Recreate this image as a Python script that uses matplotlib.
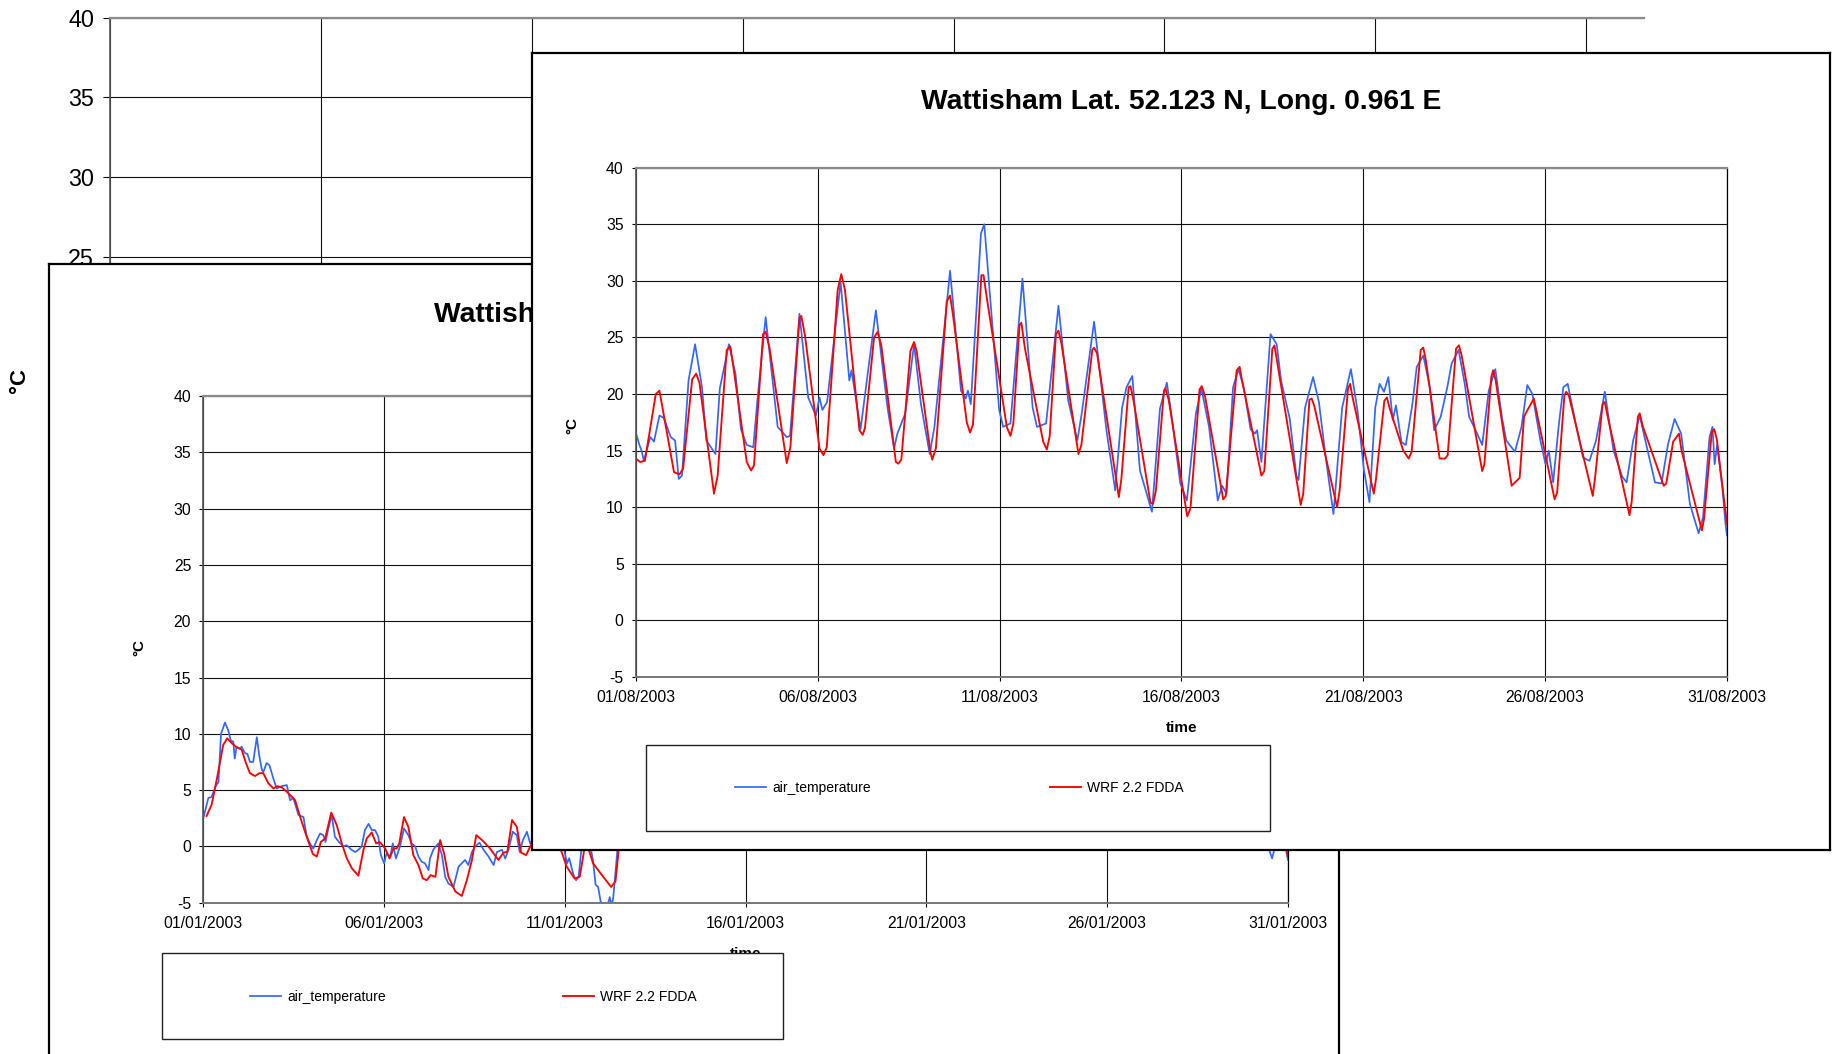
import matplotlib
matplotlib.use("Agg")
import matplotlib.pyplot as plt
import numpy as np
from matplotlib.patches import Rectangle
from matplotlib.legend import Legend

plt.rcParams['font.family'] = ['Liberation Sans', 'DejaVu Sans']
plt.rcParams['axes.unicode_minus'] = False

W, H = 1833, 1054
nan = float('nan')

# ---------------- data ----------------
title = "Wattisham Lat. 52.123 N, Long. 0.961 E"
series_names = ["air_temperature", "WRF 2.2 FDDA"]
y_ticks = [-5, 0, 5, 10, 15, 20, 25, 30, 35, 40]
x_tick_days = [0, 5, 10, 15, 20, 25, 30]
aug_labels = ["01/08/2003", "06/08/2003", "11/08/2003", "16/08/2003",
              "21/08/2003", "26/08/2003", "31/08/2003"]
jan_labels = ["01/01/2003", "06/01/2003", "11/01/2003", "16/01/2003",
              "21/01/2003", "26/01/2003", "31/01/2003"]

# August 2003 (days after 01/08/2003 00:00)
aug_wrf_day = [0.00, 0.12, 0.25, 0.55, 0.65, 0.75, 1.05, 1.20, 1.30, 1.55, 1.66, 1.75,
               2.15, 2.25, 2.50, 2.60, 2.70, 3.05, 3.17, 3.25, 3.50, 3.57, 3.68, 4.15,
               4.25, 4.50, 4.55, 4.65, 5.05, 5.16, 5.25, 5.55, 5.65, 5.75, 6.15, 6.24,
               6.30, 6.55, 6.65, 6.75, 7.15, 7.22, 7.30, 7.55, 7.65, 7.72, 8.10, 8.15,
               8.25, 8.55, 8.64, 8.72, 9.10, 9.19, 9.27, 9.50, 9.56, 9.65, 10.20, 10.30,
               10.38, 10.55, 10.60, 10.70, 11.20, 11.30, 11.38, 11.55, 11.62, 11.70, 12.17, 12.25,
               12.55, 12.60, 12.68, 13.28, 13.35, 13.55, 13.60, 13.68, 14.15, 14.22, 14.30, 14.52,
               14.56, 14.65, 15.16, 15.25, 15.50, 15.56, 15.65, 16.15, 16.22, 16.52, 16.60, 16.68,
               17.20, 17.28, 17.50, 17.56, 17.65, 18.28, 18.35, 18.52, 18.58, 18.65, 19.28, 19.35,
               19.58, 19.64, 19.70, 20.29, 20.35, 20.58, 20.65, 20.72, 21.10, 21.25, 21.33, 21.58,
               21.65, 21.72, 22.10, 22.25, 22.32, 22.55, 22.63, 22.70, 23.27, 23.33, 23.52, 23.57,
               23.64, 24.08, 24.30, 24.42, 24.50, 24.69, 25.26, 25.33, 25.53, 25.58, 25.65, 26.31,
               26.38, 26.58, 26.64, 26.72, 27.32, 27.38, 27.55, 27.60, 27.68, 28.26, 28.33, 28.52,
               28.68, 28.75, 29.31, 29.37, 29.58, 29.65, 29.72, 30.00]
aug_wrf_val = [14.3, 14.0, 14.1, 20.0, 20.3, 18.5, 13.1, 12.9, 13.4, 21.3, 21.8, 21.0,
               11.2, 12.8, 23.9, 24.2, 22.0, 14.0, 13.25, 13.7, 25.3, 25.5, 24.0, 13.9,
               15.3, 26.7, 26.9, 25.2, 15.2, 14.6, 15.3, 29.2, 30.6, 29.2, 16.8, 16.4,
               17.0, 25.0, 25.5, 24.3, 14.0, 13.85, 14.2, 23.8, 24.6, 23.8, 14.9, 14.2,
               15.2, 28.2, 28.7, 27.0, 17.5, 16.6, 17.3, 30.5, 30.5, 28.5, 17.1, 16.3,
               17.4, 26.1, 26.3, 24.0, 15.8, 15.1, 16.3, 25.3, 25.6, 24.5, 14.7, 15.5,
               23.9, 24.1, 23.6, 10.9, 12.5, 20.6, 20.7, 19.5, 10.4, 10.3, 11.5, 20.3,
               20.5, 19.5, 9.2, 9.9, 20.4, 20.7, 19.8, 10.7, 11.0, 22.1, 22.4, 21.0,
               12.8, 13.2, 24.0, 24.3, 22.5, 10.2, 11.2, 19.5, 19.6, 19.0, 10.0, 11.5,
               20.5, 20.9, 19.8, 11.2, 12.5, 19.4, 19.7, 18.8, 15.0, 14.3, 14.9, 23.9,
               24.1, 23.0, 14.3, 14.3, 14.6, 24.0, 24.3, 23.5, 13.2, 13.8, 21.5, 22.1,
               21.2, 11.9, 12.6, 18.0, 18.5, 19.6, 10.7, 11.3, 19.9, 20.2, 19.9, 11.0,
               12.8, 19.1, 19.3, 18.0, 9.3, 10.5, 18.0, 18.3, 17.2, 11.9, 12.1, 15.8,
               16.5, 15.0, 7.95, 9.0, 16.6, 16.9, 16.0, 8.5]

aug_obs_day = [0.00, 0.10, 0.16, 0.22, 0.40, 0.50, 0.65, 0.77, 0.96, 1.08, 1.18, 1.27,
               1.45, 1.63, 1.82, 1.94, 2.19, 2.31, 2.56, 2.74, 2.89, 3.05, 3.23, 3.35,
               3.57, 3.90, 4.15, 4.24, 4.50, 4.74, 4.95, 5.05, 5.13, 5.26, 5.63, 5.87,
               5.93, 6.18, 6.60, 6.92, 7.10, 7.19, 7.41, 7.65, 7.84, 8.08, 8.21, 8.64,
               8.94, 9.07, 9.13, 9.21, 9.49, 9.58, 9.99, 10.10, 10.30, 10.63, 10.91, 11.03,
               11.28, 11.62, 11.89, 12.14, 12.26, 12.60, 12.94, 13.18, 13.37, 13.49, 13.65, 13.86,
               14.19, 14.41, 14.60, 14.72, 14.97, 15.15, 15.40, 15.55, 15.76, 16.00, 16.12, 16.24,
               16.42, 16.57, 16.72, 16.90, 17.02, 17.08, 17.20, 17.45, 17.62, 17.74, 17.98, 18.16,
               18.22, 18.40, 18.62, 18.78, 18.96, 19.18, 19.42, 19.66, 19.84, 20.02, 20.17, 20.33,
               20.45, 20.57, 20.69, 20.81, 20.90, 21.05, 21.17, 21.35, 21.47, 21.65, 21.83, 21.95,
               22.13, 22.31, 22.43, 22.62, 22.79, 22.91, 23.09, 23.27, 23.45, 23.63, 23.81, 23.93,
               24.17, 24.35, 24.51, 24.65, 24.87, 25.01, 25.10, 25.22, 25.38, 25.50, 25.62, 25.86,
               26.04, 26.22, 26.40, 26.64, 26.88, 27.12, 27.24, 27.42, 27.60, 27.84, 28.02, 28.20,
               28.38, 28.56, 28.74, 28.98, 29.22, 29.34, 29.52, 29.60, 29.66, 29.73, 29.87, 29.96,
               30.00]
aug_obs_val = [16.6, 15.5, 15.0, 14.1, 16.2, 15.8, 18.1, 17.9, 16.2, 15.9, 12.5, 12.8,
               21.2, 24.4, 20.6, 15.9, 14.7, 20.5, 24.4, 21.8, 16.9, 15.5, 15.3, 19.7,
               26.8, 17.1, 16.2, 16.3, 27.1, 19.7, 18.1, 19.7, 18.6, 19.3, 29.9, 21.2,
               22.1, 16.9, 27.4, 18.8, 15.2, 16.5, 18.3, 24.4, 19.1, 14.7, 17.1, 30.9,
               20.3, 19.6, 20.3, 19.1, 34.2, 35.0, 18.6, 17.1, 17.4, 30.2, 18.8, 17.1,
               17.4, 27.8, 19.4, 15.9, 18.3, 26.4, 16.8, 11.5, 18.8, 20.6, 21.6, 13.25,
               9.6, 18.7, 21.0, 18.3, 12.1, 10.6, 18.3, 20.5, 17.1, 10.6, 11.9, 11.2,
               20.6, 22.2, 20.5, 16.9, 16.5, 16.8, 14.0, 25.3, 24.4, 21.2, 17.8, 12.8,
               12.4, 18.8, 21.5, 19.3, 14.6, 9.4, 18.8, 22.2, 18.6, 13.25, 10.45, 18.8,
               20.9, 20.2, 21.5, 17.7, 19.0, 15.75, 15.5, 19.1, 22.4, 23.4, 20.6, 16.8,
               18.0, 20.6, 22.7, 23.9, 20.9, 18.0, 16.8, 15.5, 20.3, 22.2, 18.0, 15.9,
               14.9, 17.1, 20.8, 20.0, 15.9, 13.8, 15.0, 12.2, 17.4, 20.6, 20.9, 17.1,
               14.4, 14.1, 15.9, 20.2, 15.0, 12.7, 12.2, 15.9, 18.1, 14.7, 12.2, 12.1,
               15.6, 17.8, 16.5, 10.3, 7.7, 9.1, 16.2, 17.1, 13.8, 15.5, 11.8, 8.5,
               7.5]

# January 2003 (days after 01/01/2003 00:00); NaN = part hidden behind the August window
jan_obs_day = [0.00, 0.14, 0.23, 0.35, 0.42, 0.49, 0.60, 0.69, 0.76, 0.83, 0.87, 0.92,
               1.01, 1.06, 1.15, 1.22, 1.29, 1.38, 1.48, 1.55, 1.62, 1.66, 1.75, 1.83,
               1.94, 2.03, 2.17, 2.31, 2.40, 2.49, 2.63, 2.77, 2.86, 2.95, 3.04, 3.14,
               3.23, 3.32, 3.38, 3.46, 3.55, 3.64, 3.75, 3.87, 3.97, 4.10, 4.20, 4.29,
               4.38, 4.47, 4.57, 4.66, 4.75, 4.84, 4.91, 5.00, 5.07, 5.17, 5.24, 5.33,
               5.44, 5.55, 5.67, 5.76, 5.86, 5.95, 6.04, 6.13, 6.23, 6.27, 6.36, 6.50,
               6.60, 6.69, 6.78, 6.92, 7.06, 7.15, 7.24, 7.33, 7.43, 7.52, 7.64, 7.75,
               7.89, 8.03, 8.12, 8.26, 8.35, 8.44, 8.56, 8.67, 8.75, 8.84, 8.95, 9.04,
               9.11, 9.20, 9.50,
               9.90, 9.98, 10.06, 10.12, 10.24, 10.31, 10.38, 10.45, 10.50, 10.60,
               10.70, 10.73, 10.78, 10.85, 10.92, 10.99, 11.08, 11.14, 11.18, 11.24, 11.30, 11.34,
               11.38, 11.45, 11.50, 11.60,
               29.45, 29.50, 29.56, 29.62, 29.66, 29.80,
               29.93, 29.98, 30.00]
jan_obs_val = [2.5, 4.3, 4.4, 5.4, 5.7, 10.0, 11.0, 10.3, 9.4, 9.3, 7.8, 8.85,
               8.7, 8.85, 8.3, 8.2, 7.5, 7.5, 9.7, 8.0, 6.8, 6.6, 7.4, 7.2,
               6.0, 5.15, 5.35, 5.45, 4.1, 4.3, 2.8, 2.6, 0.9, 0.27, -0.2, 0.56,
               1.15, 1.0, 0.4, 1.6, 2.8, 0.86, 0.4, 0.0, 0.1, -0.3, -0.5, -0.3,
               0.0, 1.45, 2.0, 1.45, 1.45, 0.86, -0.77, -1.5, -0.6, -0.9, 0.27, -1.07,
               0.0, 1.6, 1.0, 0.27, 0.0, -0.9, -1.36, -1.5, -2.1, -1.07, -0.3, 0.27,
               -0.77, -2.7, -3.3, -3.6, -1.8, -1.5, -1.2, -1.66, -0.5, 0.0, 0.33, -0.3,
               -0.9, -1.66, -0.5, -0.3, -1.07, -0.3, 1.3, 1.0, -0.5, 0.56, 1.3, 0.27,
               0.56, 1.2, nan,
               0.0, -0.3, -1.5, -1.05, -2.55, -3.0, -2.7, -0.5, 0.0, nan,
               0.0, -0.4, -1.3, -3.4, -3.6, -4.9, -5.3, -5.0, -5.3, -4.5, -5.3, -4.5,
               -3.0, -0.4, 0.2, nan,
               0.0, -0.48, -1.07, -0.3, 0.0, nan,
               0.0, -0.92, -1.2]

jan_wrf_day = [0.09, 0.23, 0.37, 0.55, 0.66, 0.78, 0.92, 1.06, 1.18, 1.29, 1.43, 1.55,
               1.66, 1.80, 1.94, 2.05, 2.17, 2.31, 2.45, 2.54, 2.68, 2.86, 3.03, 3.14,
               3.25, 3.37, 3.54, 3.69, 3.83, 3.97, 4.11, 4.29, 4.43, 4.52, 4.66, 4.78,
               4.89, 5.03, 5.15, 5.26, 5.35, 5.42, 5.55, 5.67, 5.81, 5.95, 6.07, 6.18,
               6.29, 6.42, 6.55, 6.66, 6.78, 6.97, 7.15, 7.29, 7.43, 7.55, 7.71, 7.93,
               8.16, 8.30, 8.41, 8.54, 8.67, 8.79, 8.93, 9.06, 9.13, 9.20, 9.50,
               9.85, 9.91, 10.05, 10.27, 10.41, 10.49, 10.55, 10.60,
               10.63, 10.68, 10.78, 10.99, 11.28, 11.40, 11.50, 11.55, 11.70,
               29.93, 30.00]
jan_wrf_val = [2.7, 3.7, 5.9, 9.0, 9.6, 9.2, 8.8, 8.6, 7.4, 6.5, 6.25, 6.5,
               6.5, 5.6, 5.15, 5.35, 5.24, 4.85, 4.4, 4.1, 2.6, 0.86, -0.68, -0.9,
               0.4, 0.7, 3.0, 1.9, 0.27, -1.07, -1.95, -2.6, -0.3, 0.7, 1.24, 0.27,
               0.36, -0.18, -1.07, -0.18, -0.18, 0.27, 2.6, 1.75, -0.77, -1.66, -2.84, -3.0,
               -2.55, -2.7, 0.56, -0.62, -2.7, -4.0, -4.4, -3.0, -1.2, 1.0, 0.56, -0.18,
               -1.2, -0.56, -0.47, 2.34, 1.75, -0.56, -0.77, 0.12, 0.56, 0.9, nan,
               0.0, -0.48, -1.8, -2.85, -2.7, -1.2, 0.0, nan,
               0.0, -0.48, -1.5, -2.4, -3.6, -3.1, 0.0, 0.5, nan,
               0.0, -0.9]

obs_color = '#3366ff'
wrf_color = '#ff0000'

# ---------------- figure ----------------
fig = plt.figure(figsize=(W / 100, H / 100), dpi=100)


def box(x0, y0, x1, y1):
    return [x0 / W, 1 - y1 / H, (x1 - x0) / W, (y1 - y0) / H]


def pt(x, y):
    return (x / W, 1 - y / H)


def window(rect, z):
    w = fig.add_axes(box(*rect), zorder=z)
    w.set_xticks([])
    w.set_yticks([])
    w.set_facecolor('white')
    for s in w.spines.values():
        s.set_color('black')
        s.set_linewidth(1.6)
    return w


def style_chart(ax, xlim, xticks, xlabels, fs, tlen, padx, pady):
    ax.set_xlim(*xlim)
    ax.set_ylim(-5, 40)
    ax.set_yticks(y_ticks)
    ax.set_xticks(xticks)
    ax.set_xticklabels(xlabels)
    ax.grid(True, color='#111111', linewidth=0.8)
    ax.tick_params(axis='both', direction='out', length=tlen, width=0.8,
                   color='black', labelsize=fs, labelcolor='black')
    ax.tick_params(axis='x', pad=padx)
    ax.tick_params(axis='y', pad=pady)
    ax.spines['top'].set_color('#8a8a8a')
    ax.spines['top'].set_linewidth(1.6)
    ax.spines['left'].set_color('#555555')
    ax.spines['left'].set_linewidth(1.2)
    ax.spines['bottom'].set_color('#777777')
    ax.spines['bottom'].set_linewidth(1.4)
    ax.spines['right'].set_color('black')
    ax.spines['right'].set_linewidth(0.9)


def add_legend(ax, lines, frame, hx, yc):
    fx0, fy0, fx1, fy1 = frame
    ax.add_artist(Rectangle(pt(fx0, fy1), (fx1 - fx0) / W, (fy1 - fy0) / H,
                            transform=fig.transFigure, facecolor='white',
                            edgecolor='#222222', linewidth=1.0, zorder=5,
                            clip_on=False))
    for line, name, x in zip(lines, series_names, hx):
        leg = Legend(ax, [line], [name], loc='center left',
                     bbox_to_anchor=pt(x, yc), bbox_transform=fig.transFigure,
                     frameon=False, borderpad=0, borderaxespad=0,
                     handlelength=2.25, handletextpad=0.42, fontsize=10)
        leg.set_zorder(6)
        ax.add_artist(leg)


# ---- layer 0: background chart ----
ax0 = fig.add_axes(box(110, 17.7, 1644, 735), zorder=0)
style_chart(ax0, (0, 36.37), [0, 5, 10, 15, 20, 25, 30, 35], [''] * 8,
            16.8, 5.0, 6, 6.5)
ax0.spines['right'].set_visible(False)
ax0.text(*pt(20, 380), "°C", transform=fig.transFigure, rotation=90,
         ha='center', va='center', fontsize=16, fontweight='bold')

# ---- layer 1: January chart ----
w1 = window((49, 264, 1339, 1120), 1)
w1.text(*pt(694, 321.7), title, transform=fig.transFigure, ha='center',
        va='baseline', fontsize=20.3, fontweight='bold')
ax1 = fig.add_axes(box(203.3, 396, 1288, 902.7), zorder=2)
style_chart(ax1, (0, 30), x_tick_days, jan_labels, 11.3, 3.2, 6.5, 5.5)
lj_obs, = ax1.plot(jan_obs_day, jan_obs_val, color=obs_color, lw=1.25)
lj_wrf, = ax1.plot(jan_wrf_day, jan_wrf_val, color=wrf_color, lw=1.35)
ax1.text(*pt(745.5, 958), "time", transform=fig.transFigure, ha='center',
         va='baseline', fontsize=11, fontweight='bold')
ax1.text(*pt(139, 647), "°C", transform=fig.transFigure, rotation=90,
         ha='center', va='center', fontsize=11, fontweight='bold')
add_legend(ax1, [lj_obs, lj_wrf], (162, 953, 783, 1039), (250, 563), 997)

# ---- layer 2: August chart ----
w2 = window((532, 52.7, 1830, 850), 3)
w2.text(*pt(1181, 109.3), title, transform=fig.transFigure, ha='center',
        va='baseline', fontsize=20.3, fontweight='bold')
ax2 = fig.add_axes(box(635.8, 167.7, 1727, 677), zorder=4)
style_chart(ax2, (0, 30), x_tick_days, aug_labels, 11.3, 3.2, 6.5, 5.5)
la_obs, = ax2.plot(aug_obs_day, aug_obs_val, color=obs_color, lw=1.25)
la_wrf, = ax2.plot(aug_wrf_day, aug_wrf_val, color=wrf_color, lw=1.35)
ax2.text(*pt(1181.5, 732.3), "time", transform=fig.transFigure, ha='center',
         va='baseline', fontsize=11, fontweight='bold')
ax2.text(*pt(572, 425), "°C", transform=fig.transFigure, rotation=90,
         ha='center', va='center', fontsize=11, fontweight='bold')
add_legend(ax2, [la_obs, la_wrf], (646.5, 745, 1270, 831), (735, 1050), 788)

fig.savefig("out.png", dpi=100, facecolor='white')
